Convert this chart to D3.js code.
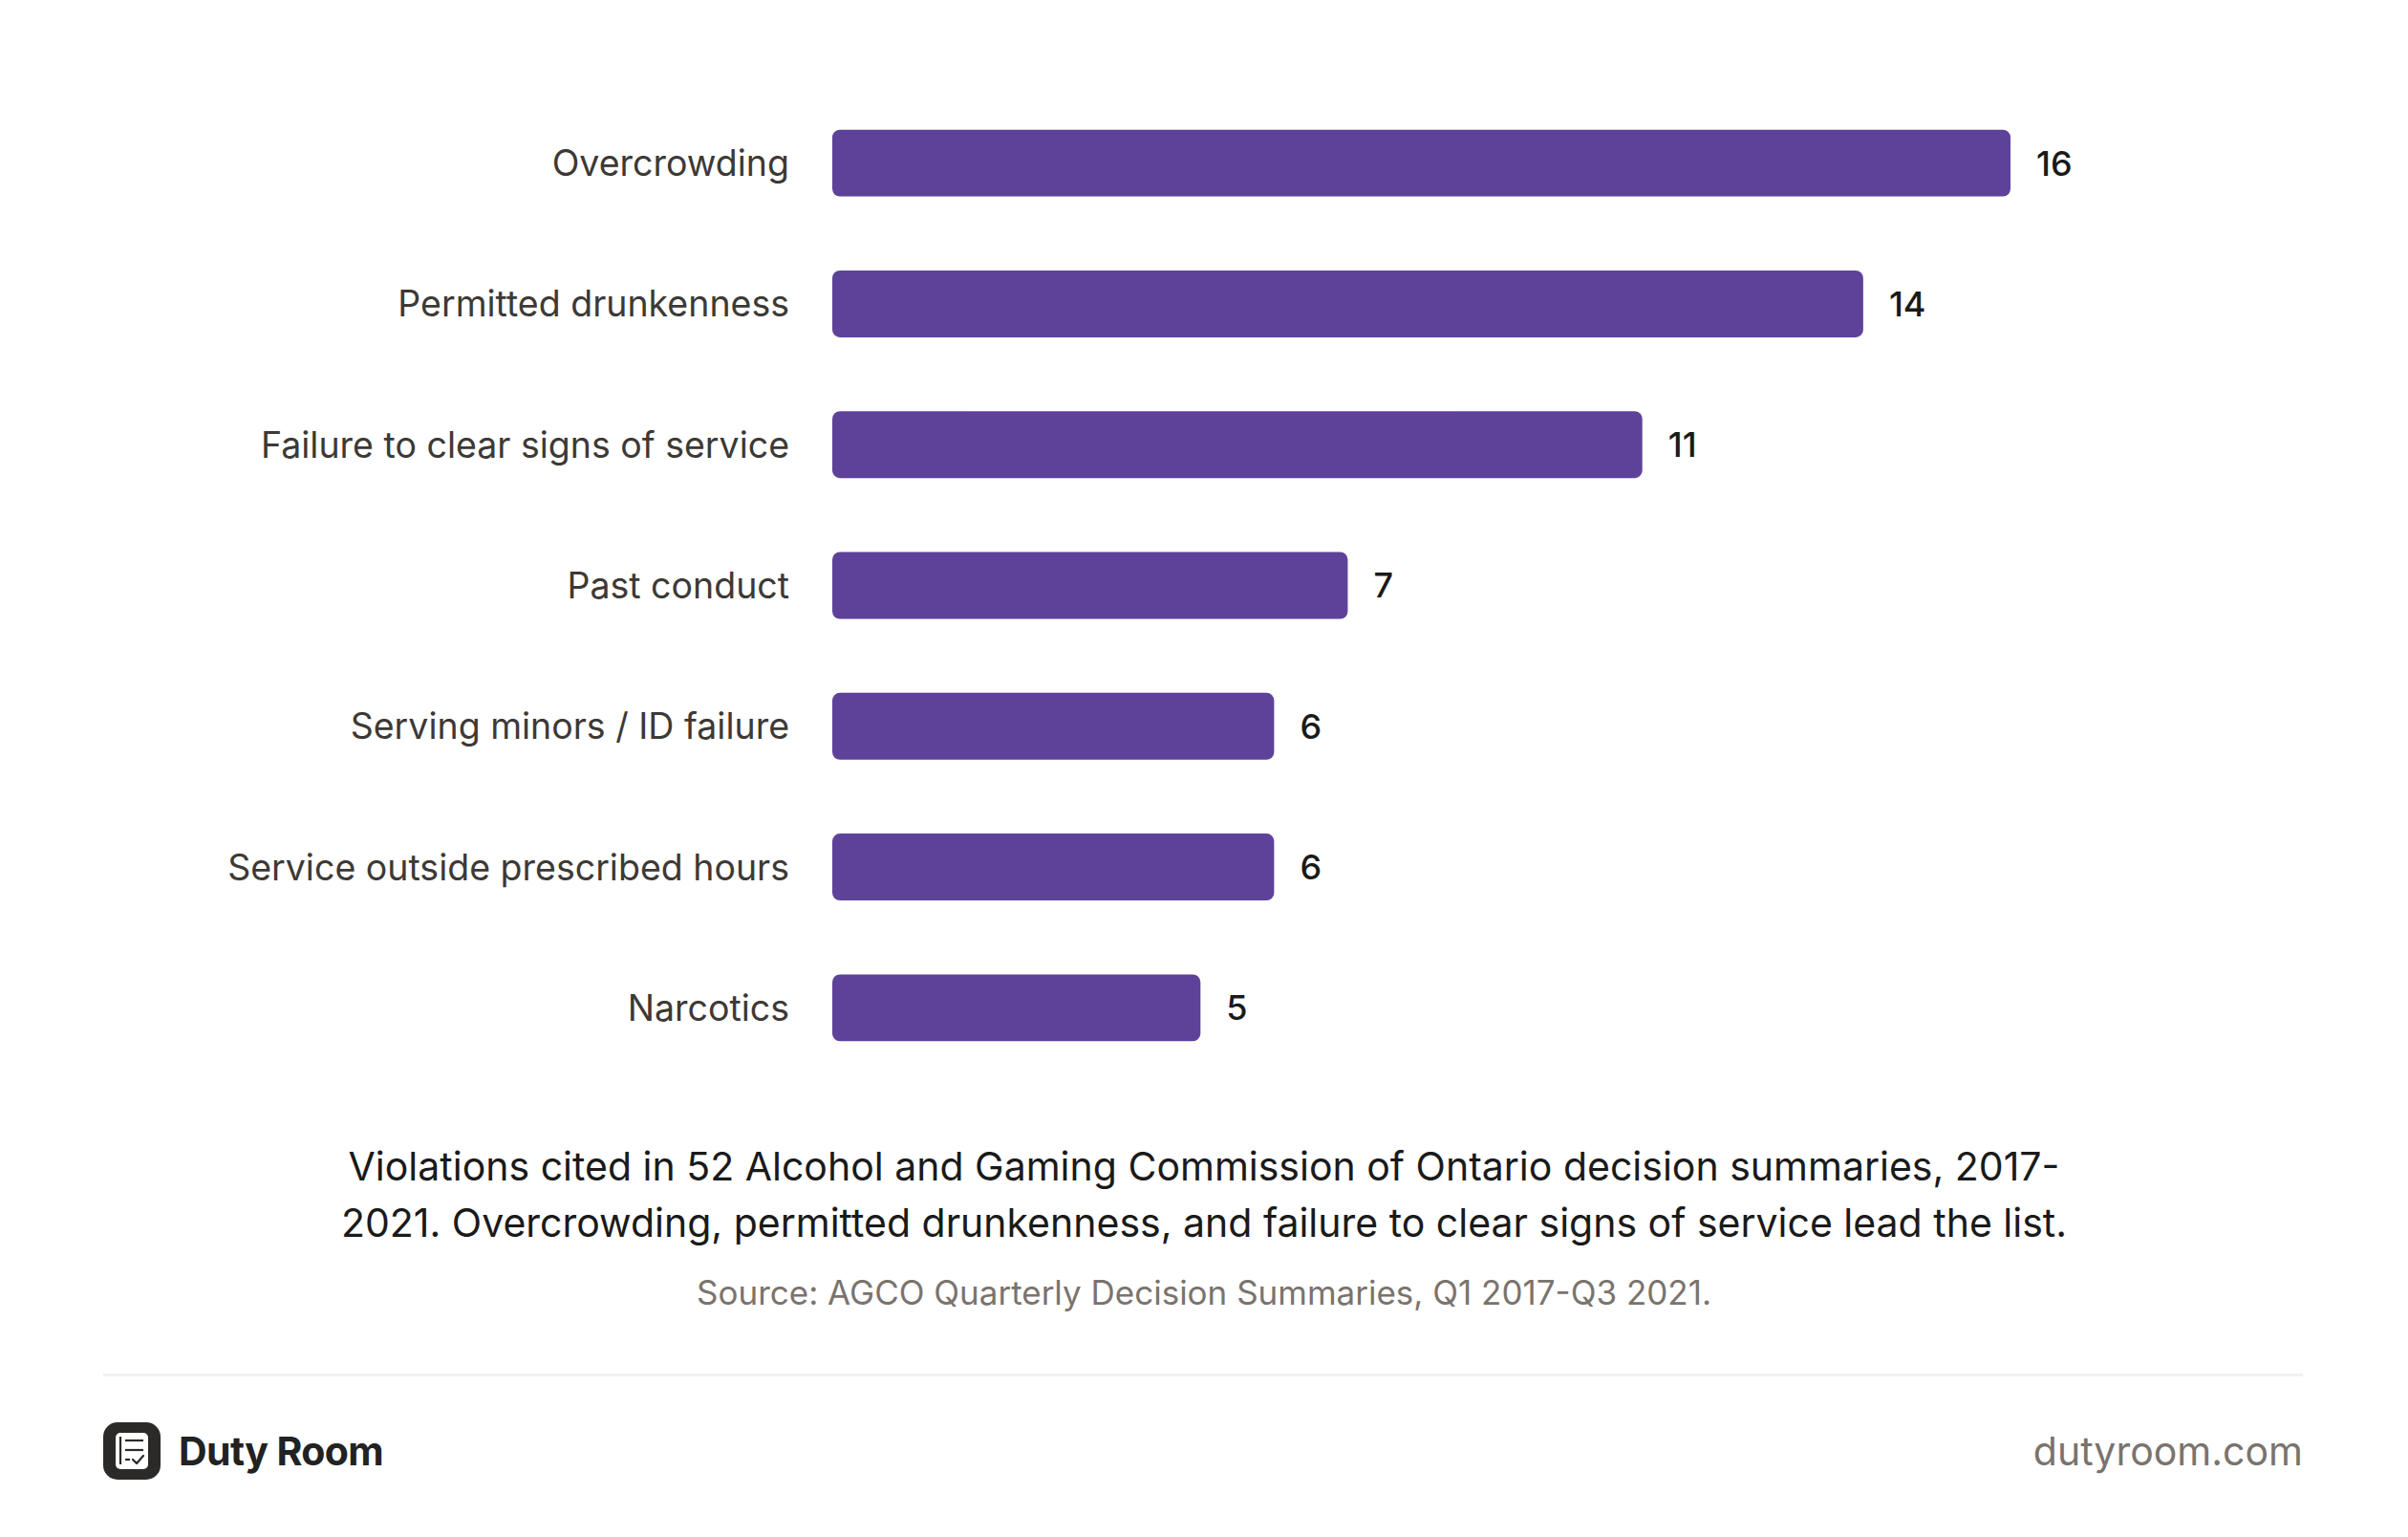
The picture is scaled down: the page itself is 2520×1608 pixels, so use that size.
<!DOCTYPE html>
<html lang="en">
<head>
<meta charset="UTF-8">
<title>AGCO violations</title>
<script src="https://d3js.org/d3.v7.min.js"></script>
<style>
    html, body { margin: 0; padding: 0; background: #fff; }
    svg { display: block; font-family: Inter, Roboto, "Noto Sans", sans-serif; }
</style>
</head>
<body>
<div id="chart"></div>
<script>
    // Data
    const categories = [
        "Overcrowding",
        "Permitted drunkenness",
        "Failure to clear signs of service",
        "Past conduct",
        "Serving minors / ID failure",
        "Service outside prescribed hours",
        "Narcotics"
    ];
    const counts = [16, 14, 11, 7, 6, 6, 5];
    const captionLines = [
        "Violations cited in 52 Alcohol and Gaming Commission of Ontario decision summaries, 2017-",
        "2021. Overcrowding, permitted drunkenness, and failure to clear signs of service lead the list."
    ];
    const sourceText = "Source: AGCO Quarterly Decision Summaries, Q1 2017-Q3 2021.";
    const brandName = "Duty Room";
    const siteName = "dutyroom.com";

    const W = 2520, H = 1608;
    const barColor = "#5e429a";

    const svg = d3.select("#chart").append("svg")
        .attr("width", W)
        .attr("height", H);

    // Scales
    const x = d3.scaleLinear()
        .domain([0, d3.max(counts)])
        .range([871, 2104]);

    const y = d3.scaleBand()
        .domain(categories)
        .range([97, 1128])
        .paddingInner(0.525)
        .paddingOuter(0.2625);

    const rows = categories.map((c, i) => ({ cat: c, value: counts[i] }));

    // Bars
    svg.append("g").selectAll("rect")
        .data(rows)
        .join("rect")
        .attr("x", x(0))
        .attr("y", d => y(d.cat))
        .attr("width", d => x(d.value) - x(0))
        .attr("height", y.bandwidth())
        .attr("rx", 8)
        .attr("fill", barColor);

    // Category labels
    svg.append("g").selectAll("text")
        .data(rows)
        .join("text")
        .attr("x", x(0) - 45)
        .attr("y", d => y(d.cat) + y.bandwidth() / 2)
        .attr("dy", "0.36em")
        .attr("text-anchor", "end")
        .attr("font-size", 37.5)
        .attr("fill", "#3d3935")
        .text(d => d.cat);

    // Value labels
    svg.append("g").selectAll("text")
        .data(rows)
        .join("text")
        .attr("x", d => x(d.value) + 27)
        .attr("y", d => y(d.cat) + y.bandwidth() / 2)
        .attr("dy", "0.36em")
        .attr("font-size", 36)
        .attr("font-weight", 500)
        .attr("fill", "#1a1a1a")
        .text(d => d.value);

    // Caption
    svg.append("g").selectAll("text")
        .data(captionLines)
        .join("text")
        .attr("x", W / 2)
        .attr("y", (d, i) => 1235 + i * 59)
        .attr("text-anchor", "middle")
        .attr("font-size", 41)
        .attr("fill", "#1a1a1a")
        .text(d => d);

    svg.append("text")
        .attr("x", W / 2)
        .attr("y", 1365)
        .attr("text-anchor", "middle")
        .attr("font-size", 35)
        .attr("fill", "#7a736e")
        .text(sourceText);

    // Separator
    svg.append("rect")
        .attr("x", 108)
        .attr("y", 1437)
        .attr("width", 2410 - 108)
        .attr("height", 3)
        .attr("fill", "#f2f2f2");

    // Footer logo
    const logo = svg.append("g").attr("transform", "translate(108,1488)");
    logo.append("rect")
        .attr("width", 60).attr("height", 60)
        .attr("rx", 15)
        .attr("fill", "#2b2a29");
    logo.append("rect")
        .attr("x", 13).attr("y", 11)
        .attr("width", 34).attr("height", 38)
        .attr("rx", 5)
        .attr("fill", "#fff");
    logo.append("line")
        .attr("x1", 18).attr("x2", 18)
        .attr("y1", 15).attr("y2", 44)
        .attr("stroke", "#2b2a29").attr("stroke-width", 2.2);
    [19, 29].forEach(yy => {
        logo.append("line")
            .attr("x1", 23).attr("x2", 42)
            .attr("y1", yy).attr("y2", yy)
            .attr("stroke", "#2b2a29").attr("stroke-width", 2.2);
    });
    logo.append("line")
        .attr("x1", 23).attr("x2", 28)
        .attr("y1", 39).attr("y2", 39)
        .attr("stroke", "#2b2a29").attr("stroke-width", 2.2);
    logo.append("path")
        .attr("d", "M31,39 L35,43 L42,35")
        .attr("fill", "none")
        .attr("stroke", "#2b2a29").attr("stroke-width", 2.2)
        .attr("stroke-linecap", "round").attr("stroke-linejoin", "round");

    svg.append("text")
        .attr("x", 187)
        .attr("y", 1533)
        .attr("font-size", 41)
        .attr("font-weight", 700)
        .attr("letter-spacing", -0.6)
        .attr("fill", "#222")
        .text(brandName);

    svg.append("text")
        .attr("x", 2410)
        .attr("y", 1533)
        .attr("text-anchor", "end")
        .attr("font-size", 41)
        .attr("fill", "#7a736e")
        .text(siteName);
</script>
</body>
</html>
